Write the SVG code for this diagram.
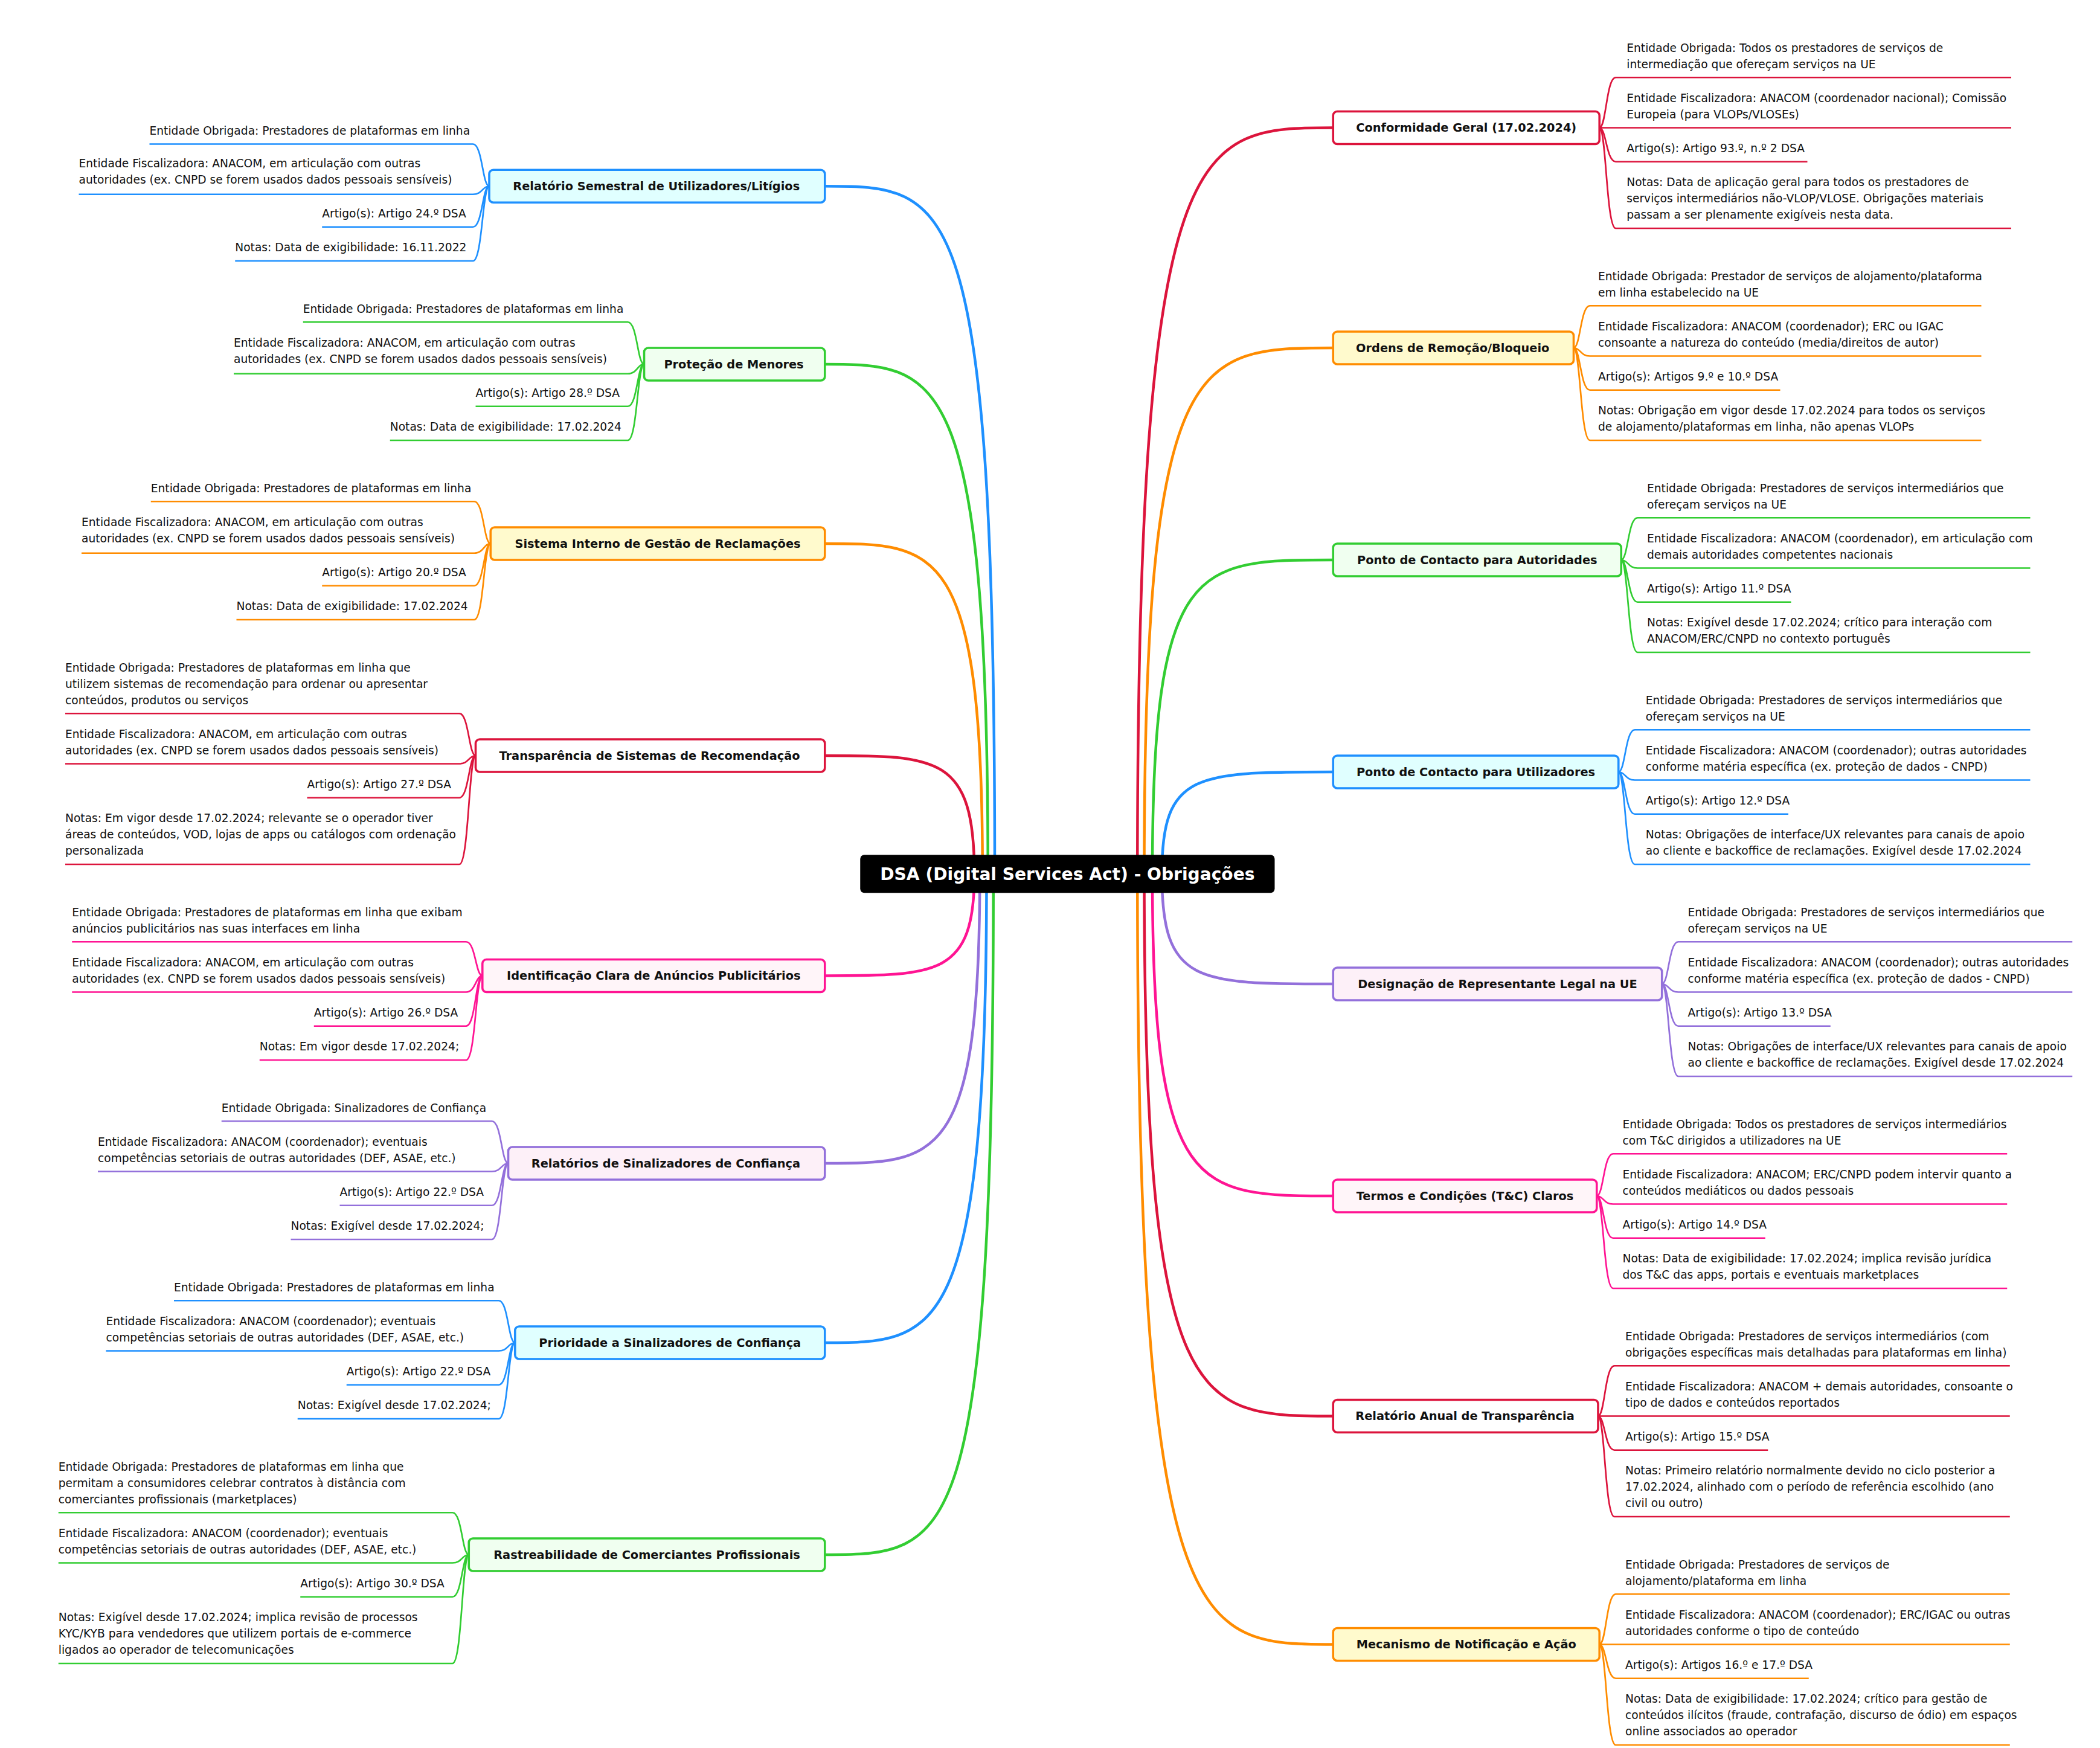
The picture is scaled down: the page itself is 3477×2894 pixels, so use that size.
<svg xmlns="http://www.w3.org/2000/svg" width="3477" height="2894" viewBox="0 0 3477 2894">
<style>
text{font-family:"DejaVu Sans","Liberation Sans",sans-serif;fill:#111;stroke:none}
.l{font-size:8.3px}
.n{font-size:8.6px;font-weight:bold;text-anchor:middle}
.r{font-size:12.5px;font-weight:bold;fill:#fff;text-anchor:middle}
.c path{fill:none;stroke-width:2;stroke-linecap:round}
.u{fill:none;stroke-width:1.2}
.nb{stroke-width:1.6}
.R{stroke:#dc143c}.O{stroke:#ff8c00}.G{stroke:#32cd32}.B{stroke:#1e90ff}.P{stroke:#9370db}.K{stroke:#ff1493}
</style>
<rect width="3477" height="2894" fill="#fff"/>
<g transform="scale(2.25)">
<g id="connectors" class="c">
<path class="B" d="M607 137C700 137 732 137 732 643"/>
<path class="G" d="M607 268C690 268 727 268 727 643"/>
<path class="O" d="M607 400C690 400 723 400 723 643"/>
<path class="R" d="M607 556C690 556 717 556 717 643"/>
<path class="K" d="M607 718C690 718 717 718 717 643"/>
<path class="P" d="M607 856C690 856 721 856 721 643"/>
<path class="B" d="M607 988C690 988 726 988 726 643"/>
<path class="G" d="M607 1144C700 1144 731 1144 731 643"/>
<path class="R" d="M981 94C880 94 837 94 837 643"/>
<path class="O" d="M981 256C880 256 842 256 842 643"/>
<path class="G" d="M981 412C880 412 848 412 848 643"/>
<path class="B" d="M981 568C880 568 855 568 855 643"/>
<path class="P" d="M981 724C880 724 855 724 855 643"/>
<path class="K" d="M981 880C880 880 848 880 848 643"/>
<path class="R" d="M981 1042C880 1042 842 1042 842 643"/>
<path class="O" d="M981 1210C880 1210 837 1210 837 643"/>
</g>
<g id="root"><rect x="633" y="629" width="305" height="28" rx="3" fill="#000"/><text class="r" x="785.5" y="647.5">DSA (Digital Services Act) - Obrigações</text></g>

<g id="n1" class="B">
<path class="u" d="M110 106H348C355 106 355 137 360 137M58 143H348C355 143 355 137 360 137M237 167H348C355 167 355 137 360 137M173 192H348C355 192 355 137 360 137"/>
<rect class="nb" x="360" y="125" width="247" height="24" rx="3" fill="#e0ffff"/><text class="n" x="483" y="140">Relatório Semestral de Utilizadores/Litígios</text>
<text class="l" x="110" y="99">Entidade Obrigada: Prestadores de plataformas em linha</text>
<text class="l" x="58" y="123">Entidade Fiscalizadora: ANACOM, em articulação com outras</text>
<text class="l" x="58" y="135">autoridades (ex. CNPD se forem usados dados pessoais sensíveis)</text>
<text class="l" x="237" y="160">Artigo(s): Artigo 24.º DSA</text>
<text class="l" x="173" y="185">Notas: Data de exigibilidade: 16.11.2022</text>
</g>

<g id="n2" class="G">
<path class="u" d="M223 237H462C469 237 469 268 474 268M172 275H462C469 275 469 268 474 268M350 299H462C469 299 469 268 474 268M287 324H462C469 324 469 268 474 268"/>
<rect class="nb" x="474" y="256" width="133" height="24" rx="3" fill="#f0fff0"/><text class="n" x="540" y="271">Proteção de Menores</text>
<text class="l" x="223" y="230">Entidade Obrigada: Prestadores de plataformas em linha</text>
<text class="l" x="172" y="255">Entidade Fiscalizadora: ANACOM, em articulação com outras</text>
<text class="l" x="172" y="267">autoridades (ex. CNPD se forem usados dados pessoais sensíveis)</text>
<text class="l" x="350" y="292">Artigo(s): Artigo 28.º DSA</text>
<text class="l" x="287" y="317">Notas: Data de exigibilidade: 17.02.2024</text>
</g>

<g id="n3" class="O">
<path class="u" d="M111 369H349C356 369 356 400 361 400M60 407H349C356 407 356 400 361 400M237 431H349C356 431 356 400 361 400M174 456H349C356 456 356 400 361 400"/>
<rect class="nb" x="361" y="388" width="246" height="24" rx="3" fill="#fffacd"/><text class="n" x="484" y="403">Sistema Interno de Gestão de Reclamações</text>
<text class="l" x="111" y="362">Entidade Obrigada: Prestadores de plataformas em linha</text>
<text class="l" x="60" y="387">Entidade Fiscalizadora: ANACOM, em articulação com outras</text>
<text class="l" x="60" y="399">autoridades (ex. CNPD se forem usados dados pessoais sensíveis)</text>
<text class="l" x="237" y="424">Artigo(s): Artigo 20.º DSA</text>
<text class="l" x="174" y="449">Notas: Data de exigibilidade: 17.02.2024</text>
</g>

<g id="n4" class="R">
<path class="u" d="M48 525H338C345 525 345 556 350 556M48 562H338C345 562 345 556 350 556M226 587H338C345 587 345 556 350 556M48 636H338C345 636 345 556 350 556"/>
<rect class="nb" x="350" y="544" width="257" height="24" rx="3" fill="#fff"/><text class="n" x="478" y="559">Transparência de Sistemas de Recomendação</text>
<text class="l" x="48" y="494">Entidade Obrigada: Prestadores de plataformas em linha que</text>
<text class="l" x="48" y="506">utilizem sistemas de recomendação para ordenar ou apresentar</text>
<text class="l" x="48" y="518">conteúdos, produtos ou serviços</text>
<text class="l" x="48" y="543">Entidade Fiscalizadora: ANACOM, em articulação com outras</text>
<text class="l" x="48" y="555">autoridades (ex. CNPD se forem usados dados pessoais sensíveis)</text>
<text class="l" x="226" y="580">Artigo(s): Artigo 27.º DSA</text>
<text class="l" x="48" y="605">Notas: Em vigor desde 17.02.2024; relevante se o operador tiver</text>
<text class="l" x="48" y="617">áreas de conteúdos, VOD, lojas de apps ou catálogos com ordenação</text>
<text class="l" x="48" y="629">personalizada</text>
</g>

<g id="n5" class="K">
<path class="u" d="M53 693H343C350 693 350 718 355 718M53 730H343C350 730 350 718 355 718M231 755H343C350 755 350 718 355 718M191 780H343C350 780 350 718 355 718"/>
<rect class="nb" x="355" y="706" width="252" height="24" rx="3" fill="#fff5f9"/><text class="n" x="481" y="721">Identificação Clara de Anúncios Publicitários</text>
<text class="l" x="53" y="674">Entidade Obrigada: Prestadores de plataformas em linha que exibam</text>
<text class="l" x="53" y="686">anúncios publicitários nas suas interfaces em linha</text>
<text class="l" x="53" y="711">Entidade Fiscalizadora: ANACOM, em articulação com outras</text>
<text class="l" x="53" y="723">autoridades (ex. CNPD se forem usados dados pessoais sensíveis)</text>
<text class="l" x="231" y="748">Artigo(s): Artigo 26.º DSA</text>
<text class="l" x="191" y="773">Notas: Em vigor desde 17.02.2024;</text>
</g>

<g id="n6" class="P">
<path class="u" d="M163 825H362C369 825 369 856 374 856M72 862H362C369 862 369 856 374 856M250 887H362C369 887 369 856 374 856M214 912H362C369 912 369 856 374 856"/>
<rect class="nb" x="374" y="844" width="233" height="24" rx="3" fill="#fdf0f8"/><text class="n" x="490" y="859">Relatórios de Sinalizadores de Confiança</text>
<text class="l" x="163" y="818">Entidade Obrigada: Sinalizadores de Confiança</text>
<text class="l" x="72" y="843">Entidade Fiscalizadora: ANACOM (coordenador); eventuais</text>
<text class="l" x="72" y="855">competências setoriais de outras autoridades (DEF, ASAE, etc.)</text>
<text class="l" x="250" y="880">Artigo(s): Artigo 22.º DSA</text>
<text class="l" x="214" y="905">Notas: Exigível desde 17.02.2024;</text>
</g>

<g id="n7" class="B">
<path class="u" d="M128 957H367C374 957 374 988 379 988M78 994H367C374 994 374 988 379 988M255 1019H367C374 1019 374 988 379 988M219 1044H367C374 1044 374 988 379 988"/>
<rect class="nb" x="379" y="976" width="228" height="24" rx="3" fill="#e0ffff"/><text class="n" x="493" y="991">Prioridade a Sinalizadores de Confiança</text>
<text class="l" x="128" y="950">Entidade Obrigada: Prestadores de plataformas em linha</text>
<text class="l" x="78" y="975">Entidade Fiscalizadora: ANACOM (coordenador); eventuais</text>
<text class="l" x="78" y="987">competências setoriais de outras autoridades (DEF, ASAE, etc.)</text>
<text class="l" x="255" y="1012">Artigo(s): Artigo 22.º DSA</text>
<text class="l" x="219" y="1037">Notas: Exigível desde 17.02.2024;</text>
</g>

<g id="n8" class="G">
<path class="u" d="M43 1113H333C340 1113 340 1144 345 1144M43 1150H333C340 1150 340 1144 345 1144M221 1175H333C340 1175 340 1144 345 1144M43 1224H333C340 1224 340 1144 345 1144"/>
<rect class="nb" x="345" y="1132" width="262" height="24" rx="3" fill="#f0fff0"/><text class="n" x="476" y="1147">Rastreabilidade de Comerciantes Profissionais</text>
<text class="l" x="43" y="1082">Entidade Obrigada: Prestadores de plataformas em linha que</text>
<text class="l" x="43" y="1094">permitam a consumidores celebrar contratos à distância com</text>
<text class="l" x="43" y="1106">comerciantes profissionais (marketplaces)</text>
<text class="l" x="43" y="1131">Entidade Fiscalizadora: ANACOM (coordenador); eventuais</text>
<text class="l" x="43" y="1143">competências setoriais de outras autoridades (DEF, ASAE, etc.)</text>
<text class="l" x="221" y="1168">Artigo(s): Artigo 30.º DSA</text>
<text class="l" x="43" y="1193">Notas: Exigível desde 17.02.2024; implica revisão de processos</text>
<text class="l" x="43" y="1205">KYC/KYB para vendedores que utilizem portais de e-commerce</text>
<text class="l" x="43" y="1217">ligados ao operador de telecomunicações</text>
</g>

<g id="m1" class="R">
<path class="u" d="M1177 94C1182 94 1182 57 1189 57H1480M1177 94H1480M1177 94C1182 94 1182 119 1189 119H1330M1177 94C1182 94 1182 168 1189 168H1480"/>
<rect class="nb" x="981" y="82" width="196" height="24" rx="3" fill="#fff"/><text class="n" x="1079" y="97">Conformidade Geral (17.02.2024)</text>
<text class="l" x="1197" y="38">Entidade Obrigada: Todos os prestadores de serviços de</text>
<text class="l" x="1197" y="50">intermediação que ofereçam serviços na UE</text>
<text class="l" x="1197" y="75">Entidade Fiscalizadora: ANACOM (coordenador nacional); Comissão</text>
<text class="l" x="1197" y="87">Europeia (para VLOPs/VLOSEs)</text>
<text class="l" x="1197" y="112">Artigo(s): Artigo 93.º, n.º 2 DSA</text>
<text class="l" x="1197" y="137">Notas: Data de aplicação geral para todos os prestadores de</text>
<text class="l" x="1197" y="149">serviços intermediários não-VLOP/VLOSE. Obrigações materiais</text>
<text class="l" x="1197" y="161">passam a ser plenamente exigíveis nesta data.</text>
</g>

<g id="m2" class="O">
<path class="u" d="M1158 256C1163 256 1163 225 1170 225H1458M1158 256C1163 256 1163 262 1170 262H1458M1158 256C1163 256 1163 287 1170 287H1310M1158 256C1163 256 1163 324 1170 324H1458"/>
<rect class="nb" x="981" y="244" width="177" height="24" rx="3" fill="#fffacd"/><text class="n" x="1069" y="259">Ordens de Remoção/Bloqueio</text>
<text class="l" x="1176" y="206">Entidade Obrigada: Prestador de serviços de alojamento/plataforma</text>
<text class="l" x="1176" y="218">em linha estabelecido na UE</text>
<text class="l" x="1176" y="243">Entidade Fiscalizadora: ANACOM (coordenador); ERC ou IGAC</text>
<text class="l" x="1176" y="255">consoante a natureza do conteúdo (media/direitos de autor)</text>
<text class="l" x="1176" y="280">Artigo(s): Artigos 9.º e 10.º DSA</text>
<text class="l" x="1176" y="305">Notas: Obrigação em vigor desde 17.02.2024 para todos os serviços</text>
<text class="l" x="1176" y="317">de alojamento/plataformas em linha, não apenas VLOPs</text>
</g>

<g id="m3" class="G">
<path class="u" d="M1193 412C1198 412 1198 381 1205 381H1494M1193 412C1198 412 1198 418 1205 418H1494M1193 412C1198 412 1198 443 1205 443H1318M1193 412C1198 412 1198 480 1205 480H1494"/>
<rect class="nb" x="981" y="400" width="212" height="24" rx="3" fill="#f0fff0"/><text class="n" x="1087" y="415">Ponto de Contacto para Autoridades</text>
<text class="l" x="1212" y="362">Entidade Obrigada: Prestadores de serviços intermediários que</text>
<text class="l" x="1212" y="374">ofereçam serviços na UE</text>
<text class="l" x="1212" y="399">Entidade Fiscalizadora: ANACOM (coordenador), em articulação com</text>
<text class="l" x="1212" y="411">demais autoridades competentes nacionais</text>
<text class="l" x="1212" y="436">Artigo(s): Artigo 11.º DSA</text>
<text class="l" x="1212" y="461">Notas: Exigível desde 17.02.2024; crítico para interação com</text>
<text class="l" x="1212" y="473">ANACOM/ERC/CNPD no contexto português</text>
</g>

<g id="m4" class="B">
<path class="u" d="M1191 568C1196 568 1196 537 1203 537H1494M1191 568C1196 568 1196 574 1203 574H1494M1191 568C1196 568 1196 599 1203 599H1316M1191 568C1196 568 1196 636 1203 636H1494"/>
<rect class="nb" x="981" y="556" width="210" height="24" rx="3" fill="#e0ffff"/><text class="n" x="1086" y="571">Ponto de Contacto para Utilizadores</text>
<text class="l" x="1211" y="518">Entidade Obrigada: Prestadores de serviços intermediários que</text>
<text class="l" x="1211" y="530">ofereçam serviços na UE</text>
<text class="l" x="1211" y="555">Entidade Fiscalizadora: ANACOM (coordenador); outras autoridades</text>
<text class="l" x="1211" y="567">conforme matéria específica (ex. proteção de dados - CNPD)</text>
<text class="l" x="1211" y="592">Artigo(s): Artigo 12.º DSA</text>
<text class="l" x="1211" y="617">Notas: Obrigações de interface/UX relevantes para canais de apoio</text>
<text class="l" x="1211" y="629">ao cliente e backoffice de reclamações. Exigível desde 17.02.2024</text>
</g>

<g id="m5" class="P">
<path class="u" d="M1223 724C1228 724 1228 693 1235 693H1525M1223 724C1228 724 1228 730 1235 730H1525M1223 724C1228 724 1228 755 1235 755H1347M1223 724C1228 724 1228 792 1235 792H1525"/>
<rect class="nb" x="981" y="712" width="242" height="24" rx="3" fill="#fdf0f8"/><text class="n" x="1102" y="727">Designação de Representante Legal na UE</text>
<text class="l" x="1242" y="674">Entidade Obrigada: Prestadores de serviços intermediários que</text>
<text class="l" x="1242" y="686">ofereçam serviços na UE</text>
<text class="l" x="1242" y="711">Entidade Fiscalizadora: ANACOM (coordenador); outras autoridades</text>
<text class="l" x="1242" y="723">conforme matéria específica (ex. proteção de dados - CNPD)</text>
<text class="l" x="1242" y="748">Artigo(s): Artigo 13.º DSA</text>
<text class="l" x="1242" y="773">Notas: Obrigações de interface/UX relevantes para canais de apoio</text>
<text class="l" x="1242" y="785">ao cliente e backoffice de reclamações. Exigível desde 17.02.2024</text>
</g>

<g id="m6" class="K">
<path class="u" d="M1175 880C1180 880 1180 849 1187 849H1477M1175 880C1180 880 1180 886 1187 886H1477M1175 880C1180 880 1180 911 1187 911H1299M1175 880C1180 880 1180 948 1187 948H1477"/>
<rect class="nb" x="981" y="868" width="194" height="24" rx="3" fill="#fff5f9"/><text class="n" x="1078" y="883">Termos e Condições (T&amp;C) Claros</text>
<text class="l" x="1194" y="830">Entidade Obrigada: Todos os prestadores de serviços intermediários</text>
<text class="l" x="1194" y="842">com T&amp;C dirigidos a utilizadores na UE</text>
<text class="l" x="1194" y="867">Entidade Fiscalizadora: ANACOM; ERC/CNPD podem intervir quanto a</text>
<text class="l" x="1194" y="879">conteúdos mediáticos ou dados pessoais</text>
<text class="l" x="1194" y="904">Artigo(s): Artigo 14.º DSA</text>
<text class="l" x="1194" y="929">Notas: Data de exigibilidade: 17.02.2024; implica revisão jurídica</text>
<text class="l" x="1194" y="941">dos T&amp;C das apps, portais e eventuais marketplaces</text>
</g>

<g id="m7" class="R">
<path class="u" d="M1176 1042C1181 1042 1181 1005 1188 1005H1479M1176 1042H1479M1176 1042C1181 1042 1181 1067 1188 1067H1301M1176 1042C1181 1042 1181 1116 1188 1116H1479"/>
<rect class="nb" x="981" y="1030" width="195" height="24" rx="3" fill="#fff"/><text class="n" x="1078" y="1045">Relatório Anual de Transparência</text>
<text class="l" x="1196" y="986">Entidade Obrigada: Prestadores de serviços intermediários (com</text>
<text class="l" x="1196" y="998">obrigações específicas mais detalhadas para plataformas em linha)</text>
<text class="l" x="1196" y="1023">Entidade Fiscalizadora: ANACOM + demais autoridades, consoante o</text>
<text class="l" x="1196" y="1035">tipo de dados e conteúdos reportados</text>
<text class="l" x="1196" y="1060">Artigo(s): Artigo 15.º DSA</text>
<text class="l" x="1196" y="1085">Notas: Primeiro relatório normalmente devido no ciclo posterior a</text>
<text class="l" x="1196" y="1097">17.02.2024, alinhado com o período de referência escolhido (ano</text>
<text class="l" x="1196" y="1109">civil ou outro)</text>
</g>

<g id="m8" class="O">
<path class="u" d="M1177 1210C1182 1210 1182 1173 1189 1173H1479M1177 1210H1479M1177 1210C1182 1210 1182 1235 1189 1235H1331M1177 1210C1182 1210 1182 1284 1189 1284H1479"/>
<rect class="nb" x="981" y="1198" width="196" height="24" rx="3" fill="#fffacd"/><text class="n" x="1079" y="1213">Mecanismo de Notificação e Ação</text>
<text class="l" x="1196" y="1154">Entidade Obrigada: Prestadores de serviços de</text>
<text class="l" x="1196" y="1166">alojamento/plataforma em linha</text>
<text class="l" x="1196" y="1191">Entidade Fiscalizadora: ANACOM (coordenador); ERC/IGAC ou outras</text>
<text class="l" x="1196" y="1203">autoridades conforme o tipo de conteúdo</text>
<text class="l" x="1196" y="1228">Artigo(s): Artigos 16.º e 17.º DSA</text>
<text class="l" x="1196" y="1253">Notas: Data de exigibilidade: 17.02.2024; crítico para gestão de</text>
<text class="l" x="1196" y="1265">conteúdos ilícitos (fraude, contrafação, discurso de ódio) em espaços</text>
<text class="l" x="1196" y="1277">online associados ao operador</text>
</g>
</g>
</svg>
